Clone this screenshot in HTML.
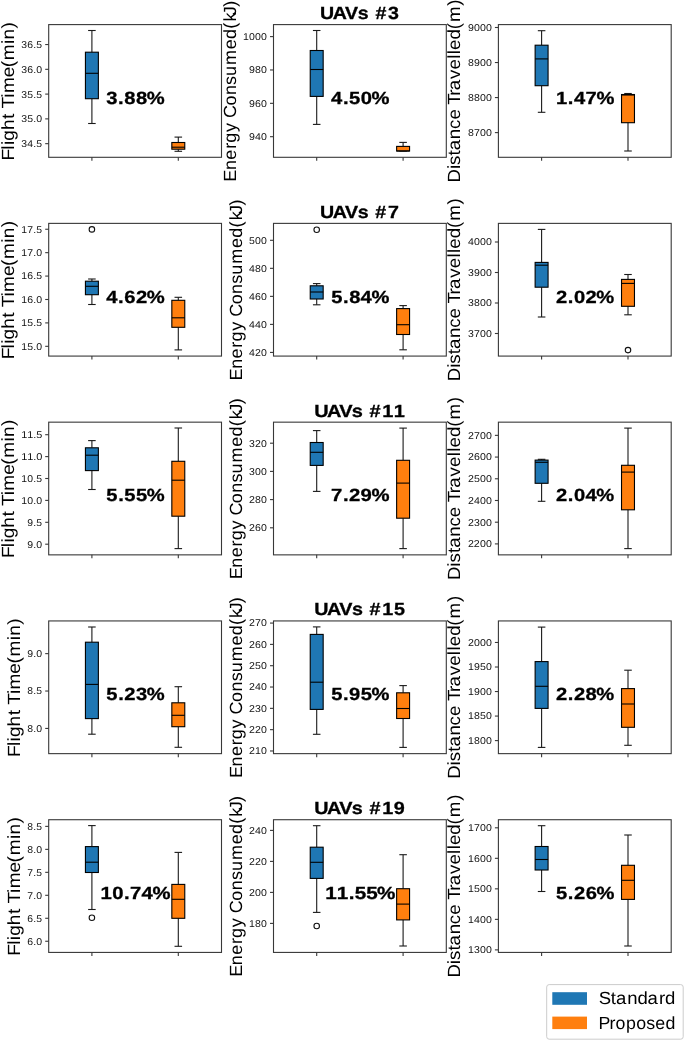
<!DOCTYPE html>
<html><head><meta charset="utf-8"><style>
html,body{margin:0;padding:0;background:#fff;}
svg{display:block;will-change:transform;font-family:"Liberation Sans", sans-serif;text-rendering:geometricPrecision;}
</style></head><body>
<svg width="685" height="1041" viewBox="0 0 685 1041">
<rect width="685" height="1041" fill="#fff"/>
<rect x="48.70" y="24.60" width="172.80" height="132.70" fill="none" stroke="#383838" stroke-width="1.1"/>
<line x1="91.90" y1="157.30" x2="91.90" y2="160.80" stroke="#383838" stroke-width="1.1"/>
<line x1="178.30" y1="157.30" x2="178.30" y2="160.80" stroke="#383838" stroke-width="1.1"/>
<line x1="45.20" y1="44.54" x2="48.70" y2="44.54" stroke="#383838" stroke-width="1.1"/>
<text transform="matrix(1.0465 0 0 1.0000 0 47.94)" x="20.42 26.15 31.80 34.66" font-size="9.95" fill="#111">36.5</text>
<line x1="45.20" y1="69.32" x2="48.70" y2="69.32" stroke="#383838" stroke-width="1.1"/>
<text transform="matrix(1.0567 0 0 1.0000 0 72.72)" x="20.20 25.87 31.48 34.34" font-size="9.95" fill="#111">36.0</text>
<line x1="45.20" y1="94.10" x2="48.70" y2="94.10" stroke="#383838" stroke-width="1.1"/>
<text transform="matrix(1.0465 0 0 1.0000 0 97.50)" x="20.42 26.09 31.80 34.66" font-size="9.95" fill="#111">35.5</text>
<line x1="45.20" y1="118.88" x2="48.70" y2="118.88" stroke="#383838" stroke-width="1.1"/>
<text transform="matrix(1.0567 0 0 1.0000 0 122.28)" x="20.20 25.81 31.48 34.34" font-size="9.95" fill="#111">35.0</text>
<line x1="45.20" y1="143.66" x2="48.70" y2="143.66" stroke="#383838" stroke-width="1.1"/>
<text transform="matrix(1.0465 0 0 1.0000 0 147.06)" x="20.42 26.13 31.80 34.66" font-size="9.95" fill="#111">34.5</text>
<line x1="91.90" y1="30.50" x2="91.90" y2="52.20" stroke="#1a1a1a" stroke-width="1.1"/>
<line x1="91.90" y1="98.70" x2="91.90" y2="123.50" stroke="#1a1a1a" stroke-width="1.1"/>
<line x1="88.67" y1="30.50" x2="95.13" y2="30.50" stroke="#1a1a1a" stroke-width="1.1" stroke-linecap="square"/>
<line x1="88.67" y1="123.50" x2="95.13" y2="123.50" stroke="#1a1a1a" stroke-width="1.1" stroke-linecap="square"/>
<rect x="85.43" y="52.20" width="12.94" height="46.50" fill="#1f77b4" stroke="#000" stroke-width="1.1"/>
<line x1="85.43" y1="73.30" x2="98.37" y2="73.30" stroke="#000" stroke-width="1.1"/>
<line x1="178.30" y1="137.10" x2="178.30" y2="142.50" stroke="#1a1a1a" stroke-width="1.1"/>
<line x1="178.30" y1="149.20" x2="178.30" y2="151.30" stroke="#1a1a1a" stroke-width="1.1"/>
<line x1="175.07" y1="137.10" x2="181.53" y2="137.10" stroke="#1a1a1a" stroke-width="1.1" stroke-linecap="square"/>
<line x1="175.07" y1="151.30" x2="181.53" y2="151.30" stroke="#1a1a1a" stroke-width="1.1" stroke-linecap="square"/>
<rect x="171.83" y="142.50" width="12.94" height="6.70" fill="#ff7f0e" stroke="#000" stroke-width="1.1"/>
<line x1="171.83" y1="147.20" x2="184.77" y2="147.20" stroke="#000" stroke-width="1.1"/>
<text transform="matrix(1.1437 0 0 1.0000 0 103.80)" x="92.99 103.28 108.69 118.83 128.24" font-size="17.64" font-weight="bold" stroke="#000" stroke-width="0.3" fill="#000">3.88%</text>
<g transform="translate(13.77 159.49) rotate(-90)"><text transform="matrix(1.0817 0 0 1.0000 0 0.00)" x="-0.99 9.08 13.36 17.38 27.20 37.51 43.02 47.24 57.07 61.37 75.99 85.28 91.87 106.87 110.97 121.20" font-size="17.64" fill="#000">Flight Time(min)</text></g>
<rect x="273.50" y="24.60" width="172.80" height="132.70" fill="none" stroke="#383838" stroke-width="1.1"/>
<line x1="316.70" y1="157.30" x2="316.70" y2="160.80" stroke="#383838" stroke-width="1.1"/>
<line x1="403.10" y1="157.30" x2="403.10" y2="160.80" stroke="#383838" stroke-width="1.1"/>
<line x1="270.00" y1="36.61" x2="273.50" y2="36.61" stroke="#383838" stroke-width="1.1"/>
<text transform="matrix(1.0616 0 0 1.0000 0 40.01)" x="228.98 234.65 240.28 245.91" font-size="9.95" fill="#111">1000</text>
<line x1="270.00" y1="69.97" x2="273.50" y2="69.97" stroke="#383838" stroke-width="1.1"/>
<text transform="matrix(1.0648 0 0 1.0000 0 73.37)" x="233.92 239.55 245.17" font-size="9.95" fill="#111">980</text>
<line x1="270.00" y1="103.33" x2="273.50" y2="103.33" stroke="#383838" stroke-width="1.1"/>
<text transform="matrix(1.0648 0 0 1.0000 0 106.73)" x="233.92 239.57 245.17" font-size="9.95" fill="#111">960</text>
<line x1="270.00" y1="136.69" x2="273.50" y2="136.69" stroke="#383838" stroke-width="1.1"/>
<text transform="matrix(1.0648 0 0 1.0000 0 140.09)" x="233.92 239.56 245.17" font-size="9.95" fill="#111">940</text>
<line x1="316.70" y1="30.50" x2="316.70" y2="50.50" stroke="#1a1a1a" stroke-width="1.1"/>
<line x1="316.70" y1="96.40" x2="316.70" y2="124.40" stroke="#1a1a1a" stroke-width="1.1"/>
<line x1="313.47" y1="30.50" x2="319.93" y2="30.50" stroke="#1a1a1a" stroke-width="1.1" stroke-linecap="square"/>
<line x1="313.47" y1="124.40" x2="319.93" y2="124.40" stroke="#1a1a1a" stroke-width="1.1" stroke-linecap="square"/>
<rect x="310.23" y="50.50" width="12.94" height="45.90" fill="#1f77b4" stroke="#000" stroke-width="1.1"/>
<line x1="310.23" y1="69.50" x2="323.17" y2="69.50" stroke="#000" stroke-width="1.1"/>
<line x1="403.10" y1="142.40" x2="403.10" y2="146.40" stroke="#1a1a1a" stroke-width="1.1"/>
<line x1="403.10" y1="151.00" x2="403.10" y2="151.00" stroke="#1a1a1a" stroke-width="1.1"/>
<line x1="399.87" y1="142.40" x2="406.33" y2="142.40" stroke="#1a1a1a" stroke-width="1.1" stroke-linecap="square"/>
<line x1="399.87" y1="151.00" x2="406.33" y2="151.00" stroke="#1a1a1a" stroke-width="1.1" stroke-linecap="square"/>
<rect x="396.63" y="146.40" width="12.94" height="4.60" fill="#ff7f0e" stroke="#000" stroke-width="1.1"/>
<line x1="396.63" y1="151.00" x2="409.57" y2="151.00" stroke="#000" stroke-width="1.1"/>
<text transform="matrix(1.1464 0 0 1.0000 0 103.80)" x="288.79 299.13 304.51 314.67 324.02" font-size="17.64" font-weight="bold" stroke="#000" stroke-width="0.3" fill="#000">4.50%</text>
<text transform="matrix(1.1106 0 0 1.0000 0 19.00)" x="288.22 299.69 310.73 322.09 331.53 338.00 349.47" font-size="17.64" font-weight="bold" stroke="#000" stroke-width="0.3" fill="#000">UAVs #3</text>
<g transform="translate(235.58 180.94) rotate(-90)"><text transform="matrix(1.0228 0 0 1.0000 0 0.00)" x="-0.76 10.62 20.75 31.38 37.29 47.82 57.20 61.51 73.70 83.92 93.84 102.66 113.42 128.75 138.87 148.82 155.80 162.10 170.27" font-size="17.64" fill="#000">Energy Consumed(kJ)</text></g>
<rect x="498.40" y="24.60" width="172.80" height="132.70" fill="none" stroke="#383838" stroke-width="1.1"/>
<line x1="541.60" y1="157.30" x2="541.60" y2="160.80" stroke="#383838" stroke-width="1.1"/>
<line x1="628.00" y1="157.30" x2="628.00" y2="160.80" stroke="#383838" stroke-width="1.1"/>
<line x1="494.90" y1="27.49" x2="498.40" y2="27.49" stroke="#383838" stroke-width="1.1"/>
<text transform="matrix(1.0666 0 0 1.0000 0 30.89)" x="438.76 444.38 449.99 455.60" font-size="9.95" fill="#111">9000</text>
<line x1="494.90" y1="62.53" x2="498.40" y2="62.53" stroke="#383838" stroke-width="1.1"/>
<text transform="matrix(1.0644 0 0 1.0000 0 65.93)" x="439.69 445.29 450.93 456.55" font-size="9.95" fill="#111">8900</text>
<line x1="494.90" y1="97.57" x2="498.40" y2="97.57" stroke="#383838" stroke-width="1.1"/>
<text transform="matrix(1.0644 0 0 1.0000 0 100.97)" x="439.69 445.31 450.93 456.55" font-size="9.95" fill="#111">8800</text>
<line x1="494.90" y1="132.61" x2="498.40" y2="132.61" stroke="#383838" stroke-width="1.1"/>
<text transform="matrix(1.0644 0 0 1.0000 0 136.01)" x="439.69 445.29 450.93 456.55" font-size="9.95" fill="#111">8700</text>
<line x1="541.60" y1="30.70" x2="541.60" y2="45.20" stroke="#1a1a1a" stroke-width="1.1"/>
<line x1="541.60" y1="85.70" x2="541.60" y2="112.30" stroke="#1a1a1a" stroke-width="1.1"/>
<line x1="538.37" y1="30.70" x2="544.83" y2="30.70" stroke="#1a1a1a" stroke-width="1.1" stroke-linecap="square"/>
<line x1="538.37" y1="112.30" x2="544.83" y2="112.30" stroke="#1a1a1a" stroke-width="1.1" stroke-linecap="square"/>
<rect x="535.13" y="45.20" width="12.94" height="40.50" fill="#1f77b4" stroke="#000" stroke-width="1.1"/>
<line x1="535.13" y1="58.90" x2="548.07" y2="58.90" stroke="#000" stroke-width="1.1"/>
<line x1="628.00" y1="93.50" x2="628.00" y2="94.50" stroke="#1a1a1a" stroke-width="1.1"/>
<line x1="628.00" y1="122.70" x2="628.00" y2="151.00" stroke="#1a1a1a" stroke-width="1.1"/>
<line x1="624.77" y1="93.50" x2="631.23" y2="93.50" stroke="#1a1a1a" stroke-width="1.1" stroke-linecap="square"/>
<line x1="624.77" y1="151.00" x2="631.23" y2="151.00" stroke="#1a1a1a" stroke-width="1.1" stroke-linecap="square"/>
<rect x="621.53" y="94.50" width="12.94" height="28.20" fill="#ff7f0e" stroke="#000" stroke-width="1.1"/>
<line x1="621.53" y1="95.00" x2="634.47" y2="95.00" stroke="#000" stroke-width="1.1"/>
<text transform="matrix(1.1432 0 0 1.0000 0 103.80)" x="486.41 496.71 502.04 512.16 521.69" font-size="17.64" font-weight="bold" stroke="#000" stroke-width="0.3" fill="#000">1.47%</text>
<g transform="translate(460.48 182.18) rotate(-90)"><text transform="matrix(1.0616 0 0 1.0000 0 0.00)" x="-0.30 12.35 16.21 25.22 30.05 40.55 50.06 58.94 68.71 73.06 81.51 86.66 97.24 106.25 116.23 120.59 124.63 134.39 144.03 150.83 166.30" font-size="17.64" fill="#000">Distance Travelled(m)</text></g>
<rect x="48.70" y="223.38" width="172.80" height="132.70" fill="none" stroke="#383838" stroke-width="1.1"/>
<line x1="91.90" y1="356.08" x2="91.90" y2="359.58" stroke="#383838" stroke-width="1.1"/>
<line x1="178.30" y1="356.08" x2="178.30" y2="359.58" stroke="#383838" stroke-width="1.1"/>
<line x1="45.20" y1="229.25" x2="48.70" y2="229.25" stroke="#383838" stroke-width="1.1"/>
<text transform="matrix(1.0485 0 0 1.0000 0 232.65)" x="20.34 26.05 31.74 34.59" font-size="9.95" fill="#111">17.5</text>
<line x1="45.20" y1="252.66" x2="48.70" y2="252.66" stroke="#383838" stroke-width="1.1"/>
<text transform="matrix(1.0588 0 0 1.0000 0 256.06)" x="20.11 25.77 31.42 34.27" font-size="9.95" fill="#111">17.0</text>
<line x1="45.20" y1="276.08" x2="48.70" y2="276.08" stroke="#383838" stroke-width="1.1"/>
<text transform="matrix(1.0485 0 0 1.0000 0 279.48)" x="20.34 26.10 31.74 34.59" font-size="9.95" fill="#111">16.5</text>
<line x1="45.20" y1="299.49" x2="48.70" y2="299.49" stroke="#383838" stroke-width="1.1"/>
<text transform="matrix(1.0588 0 0 1.0000 0 302.89)" x="20.11 25.82 31.42 34.27" font-size="9.95" fill="#111">16.0</text>
<line x1="45.20" y1="322.90" x2="48.70" y2="322.90" stroke="#383838" stroke-width="1.1"/>
<text transform="matrix(1.0485 0 0 1.0000 0 326.30)" x="20.34 26.03 31.74 34.59" font-size="9.95" fill="#111">15.5</text>
<line x1="45.20" y1="346.32" x2="48.70" y2="346.32" stroke="#383838" stroke-width="1.1"/>
<text transform="matrix(1.0588 0 0 1.0000 0 349.72)" x="20.11 25.75 31.42 34.27" font-size="9.95" fill="#111">15.0</text>
<line x1="91.90" y1="279.00" x2="91.90" y2="281.20" stroke="#1a1a1a" stroke-width="1.1"/>
<line x1="91.90" y1="294.70" x2="91.90" y2="304.50" stroke="#1a1a1a" stroke-width="1.1"/>
<line x1="88.67" y1="279.00" x2="95.13" y2="279.00" stroke="#1a1a1a" stroke-width="1.1" stroke-linecap="square"/>
<line x1="88.67" y1="304.50" x2="95.13" y2="304.50" stroke="#1a1a1a" stroke-width="1.1" stroke-linecap="square"/>
<rect x="85.43" y="281.20" width="12.94" height="13.50" fill="#1f77b4" stroke="#000" stroke-width="1.1"/>
<line x1="85.43" y1="286.30" x2="98.37" y2="286.30" stroke="#000" stroke-width="1.1"/>
<circle cx="91.90" cy="229.40" r="2.75" fill="none" stroke="#111" stroke-width="1.1"/>
<line x1="178.30" y1="297.30" x2="178.30" y2="300.30" stroke="#1a1a1a" stroke-width="1.1"/>
<line x1="178.30" y1="327.30" x2="178.30" y2="349.90" stroke="#1a1a1a" stroke-width="1.1"/>
<line x1="175.07" y1="297.30" x2="181.53" y2="297.30" stroke="#1a1a1a" stroke-width="1.1" stroke-linecap="square"/>
<line x1="175.07" y1="349.90" x2="181.53" y2="349.90" stroke="#1a1a1a" stroke-width="1.1" stroke-linecap="square"/>
<rect x="171.83" y="300.30" width="12.94" height="27.00" fill="#ff7f0e" stroke="#000" stroke-width="1.1"/>
<line x1="171.83" y1="317.80" x2="184.77" y2="317.80" stroke="#000" stroke-width="1.1"/>
<text transform="matrix(1.1464 0 0 1.0000 0 302.58)" x="92.70 103.04 108.46 118.55 127.92" font-size="17.64" font-weight="bold" stroke="#000" stroke-width="0.3" fill="#000">4.62%</text>
<g transform="translate(13.77 358.27) rotate(-90)"><text transform="matrix(1.0817 0 0 1.0000 0 0.00)" x="-0.99 9.08 13.36 17.38 27.20 37.51 43.02 47.24 57.07 61.37 75.99 85.28 91.87 106.87 110.97 121.20" font-size="17.64" fill="#000">Flight Time(min)</text></g>
<rect x="273.50" y="223.38" width="172.80" height="132.70" fill="none" stroke="#383838" stroke-width="1.1"/>
<line x1="316.70" y1="356.08" x2="316.70" y2="359.58" stroke="#383838" stroke-width="1.1"/>
<line x1="403.10" y1="356.08" x2="403.10" y2="359.58" stroke="#383838" stroke-width="1.1"/>
<line x1="270.00" y1="240.30" x2="273.50" y2="240.30" stroke="#383838" stroke-width="1.1"/>
<text transform="matrix(1.0555 0 0 1.0000 0 243.70)" x="235.99 241.70 247.36" font-size="9.95" fill="#111">500</text>
<line x1="270.00" y1="268.33" x2="273.50" y2="268.33" stroke="#383838" stroke-width="1.1"/>
<text transform="matrix(1.0604 0 0 1.0000 0 271.73)" x="234.93 240.57 246.21" font-size="9.95" fill="#111">480</text>
<line x1="270.00" y1="296.36" x2="273.50" y2="296.36" stroke="#383838" stroke-width="1.1"/>
<text transform="matrix(1.0604 0 0 1.0000 0 299.76)" x="234.93 240.59 246.21" font-size="9.95" fill="#111">460</text>
<line x1="270.00" y1="324.39" x2="273.50" y2="324.39" stroke="#383838" stroke-width="1.1"/>
<text transform="matrix(1.0604 0 0 1.0000 0 327.79)" x="234.93 240.58 246.21" font-size="9.95" fill="#111">440</text>
<line x1="270.00" y1="352.42" x2="273.50" y2="352.42" stroke="#383838" stroke-width="1.1"/>
<text transform="matrix(1.0604 0 0 1.0000 0 355.82)" x="234.93 240.46 246.21" font-size="9.95" fill="#111">420</text>
<line x1="316.70" y1="283.60" x2="316.70" y2="285.80" stroke="#1a1a1a" stroke-width="1.1"/>
<line x1="316.70" y1="299.00" x2="316.70" y2="304.80" stroke="#1a1a1a" stroke-width="1.1"/>
<line x1="313.47" y1="283.60" x2="319.93" y2="283.60" stroke="#1a1a1a" stroke-width="1.1" stroke-linecap="square"/>
<line x1="313.47" y1="304.80" x2="319.93" y2="304.80" stroke="#1a1a1a" stroke-width="1.1" stroke-linecap="square"/>
<rect x="310.23" y="285.80" width="12.94" height="13.20" fill="#1f77b4" stroke="#000" stroke-width="1.1"/>
<line x1="310.23" y1="292.00" x2="323.17" y2="292.00" stroke="#000" stroke-width="1.1"/>
<circle cx="316.70" cy="229.80" r="2.75" fill="none" stroke="#111" stroke-width="1.1"/>
<line x1="403.10" y1="305.60" x2="403.10" y2="308.60" stroke="#1a1a1a" stroke-width="1.1"/>
<line x1="403.10" y1="334.50" x2="403.10" y2="349.80" stroke="#1a1a1a" stroke-width="1.1"/>
<line x1="399.87" y1="305.60" x2="406.33" y2="305.60" stroke="#1a1a1a" stroke-width="1.1" stroke-linecap="square"/>
<line x1="399.87" y1="349.80" x2="406.33" y2="349.80" stroke="#1a1a1a" stroke-width="1.1" stroke-linecap="square"/>
<rect x="396.63" y="308.60" width="12.94" height="25.90" fill="#ff7f0e" stroke="#000" stroke-width="1.1"/>
<line x1="396.63" y1="324.70" x2="409.57" y2="324.70" stroke="#000" stroke-width="1.1"/>
<text transform="matrix(1.1424 0 0 1.0000 0 302.58)" x="289.90 300.19 305.61 315.67 325.18" font-size="17.64" font-weight="bold" stroke="#000" stroke-width="0.3" fill="#000">5.84%</text>
<text transform="matrix(1.1135 0 0 1.0000 0 217.78)" x="287.47 298.90 309.91 321.25 330.67 337.12 348.47" font-size="17.64" font-weight="bold" stroke="#000" stroke-width="0.3" fill="#000">UAVs #7</text>
<g transform="translate(241.56 379.72) rotate(-90)"><text transform="matrix(1.0228 0 0 1.0000 0 0.00)" x="-0.76 10.62 20.75 31.38 37.29 47.82 57.20 61.51 73.70 83.92 93.84 102.66 113.42 128.75 138.87 148.82 155.80 162.10 170.27" font-size="17.64" fill="#000">Energy Consumed(kJ)</text></g>
<rect x="498.40" y="223.38" width="172.80" height="132.70" fill="none" stroke="#383838" stroke-width="1.1"/>
<line x1="541.60" y1="356.08" x2="541.60" y2="359.58" stroke="#383838" stroke-width="1.1"/>
<line x1="628.00" y1="356.08" x2="628.00" y2="359.58" stroke="#383838" stroke-width="1.1"/>
<line x1="494.90" y1="242.00" x2="498.40" y2="242.00" stroke="#383838" stroke-width="1.1"/>
<text transform="matrix(1.0633 0 0 1.0000 0 245.40)" x="440.16 445.78 451.40 457.03" font-size="9.95" fill="#111">4000</text>
<line x1="494.90" y1="272.50" x2="498.40" y2="272.50" stroke="#383838" stroke-width="1.1"/>
<text transform="matrix(1.0597 0 0 1.0000 0 275.90)" x="441.65 447.27 452.94 458.58" font-size="9.95" fill="#111">3900</text>
<line x1="494.90" y1="303.00" x2="498.40" y2="303.00" stroke="#383838" stroke-width="1.1"/>
<text transform="matrix(1.0597 0 0 1.0000 0 306.40)" x="441.65 447.29 452.94 458.58" font-size="9.95" fill="#111">3800</text>
<line x1="494.90" y1="333.50" x2="498.40" y2="333.50" stroke="#383838" stroke-width="1.1"/>
<text transform="matrix(1.0597 0 0 1.0000 0 336.90)" x="441.65 447.27 452.94 458.58" font-size="9.95" fill="#111">3700</text>
<line x1="541.60" y1="229.40" x2="541.60" y2="262.40" stroke="#1a1a1a" stroke-width="1.1"/>
<line x1="541.60" y1="287.20" x2="541.60" y2="317.00" stroke="#1a1a1a" stroke-width="1.1"/>
<line x1="538.37" y1="229.40" x2="544.83" y2="229.40" stroke="#1a1a1a" stroke-width="1.1" stroke-linecap="square"/>
<line x1="538.37" y1="317.00" x2="544.83" y2="317.00" stroke="#1a1a1a" stroke-width="1.1" stroke-linecap="square"/>
<rect x="535.13" y="262.40" width="12.94" height="24.80" fill="#1f77b4" stroke="#000" stroke-width="1.1"/>
<line x1="535.13" y1="265.20" x2="548.07" y2="265.20" stroke="#000" stroke-width="1.1"/>
<line x1="628.00" y1="274.50" x2="628.00" y2="279.40" stroke="#1a1a1a" stroke-width="1.1"/>
<line x1="628.00" y1="306.30" x2="628.00" y2="314.80" stroke="#1a1a1a" stroke-width="1.1"/>
<line x1="624.77" y1="274.50" x2="631.23" y2="274.50" stroke="#1a1a1a" stroke-width="1.1" stroke-linecap="square"/>
<line x1="624.77" y1="314.80" x2="631.23" y2="314.80" stroke="#1a1a1a" stroke-width="1.1" stroke-linecap="square"/>
<rect x="621.53" y="279.40" width="12.94" height="26.90" fill="#ff7f0e" stroke="#000" stroke-width="1.1"/>
<line x1="621.53" y1="283.40" x2="634.47" y2="283.40" stroke="#000" stroke-width="1.1"/>
<circle cx="628.00" cy="350.10" r="2.75" fill="none" stroke="#111" stroke-width="1.1"/>
<text transform="matrix(1.1427 0 0 1.0000 0 302.58)" x="486.64 496.90 502.36 512.48 521.89" font-size="17.64" font-weight="bold" stroke="#000" stroke-width="0.3" fill="#000">2.02%</text>
<g transform="translate(460.48 380.96) rotate(-90)"><text transform="matrix(1.0616 0 0 1.0000 0 0.00)" x="-0.30 12.35 16.21 25.22 30.05 40.55 50.06 58.94 68.71 73.06 81.51 86.66 97.24 106.25 116.23 120.59 124.63 134.39 144.03 150.83 166.30" font-size="17.64" fill="#000">Distance Travelled(m)</text></g>
<rect x="48.70" y="422.16" width="172.80" height="132.70" fill="none" stroke="#383838" stroke-width="1.1"/>
<line x1="91.90" y1="554.86" x2="91.90" y2="558.36" stroke="#383838" stroke-width="1.1"/>
<line x1="178.30" y1="554.86" x2="178.30" y2="558.36" stroke="#383838" stroke-width="1.1"/>
<line x1="45.20" y1="434.70" x2="48.70" y2="434.70" stroke="#383838" stroke-width="1.1"/>
<text transform="matrix(1.0933 0 0 1.0000 0 438.10)" x="19.39 24.86 30.38 33.06" font-size="9.95" fill="#111">11.5</text>
<line x1="45.20" y1="456.60" x2="48.70" y2="456.60" stroke="#383838" stroke-width="1.1"/>
<text transform="matrix(1.1041 0 0 1.0000 0 460.00)" x="19.17 24.59 30.07 32.75" font-size="9.95" fill="#111">11.0</text>
<line x1="45.20" y1="478.50" x2="48.70" y2="478.50" stroke="#383838" stroke-width="1.1"/>
<text transform="matrix(1.0485 0 0 1.0000 0 481.90)" x="20.34 26.08 31.74 34.59" font-size="9.95" fill="#111">10.5</text>
<line x1="45.20" y1="500.40" x2="48.70" y2="500.40" stroke="#383838" stroke-width="1.1"/>
<text transform="matrix(1.0588 0 0 1.0000 0 503.80)" x="20.11 25.80 31.42 34.27" font-size="9.95" fill="#111">10.0</text>
<line x1="45.20" y1="522.30" x2="48.70" y2="522.30" stroke="#383838" stroke-width="1.1"/>
<text transform="matrix(1.0430 0 0 1.0000 0 525.70)" x="26.21 31.91 34.78" font-size="9.95" fill="#111">9.5</text>
<line x1="45.20" y1="544.20" x2="48.70" y2="544.20" stroke="#383838" stroke-width="1.1"/>
<text transform="matrix(1.0574 0 0 1.0000 0 547.60)" x="25.81 31.46 34.31" font-size="9.95" fill="#111">9.0</text>
<line x1="91.90" y1="440.60" x2="91.90" y2="447.80" stroke="#1a1a1a" stroke-width="1.1"/>
<line x1="91.90" y1="470.60" x2="91.90" y2="489.50" stroke="#1a1a1a" stroke-width="1.1"/>
<line x1="88.67" y1="440.60" x2="95.13" y2="440.60" stroke="#1a1a1a" stroke-width="1.1" stroke-linecap="square"/>
<line x1="88.67" y1="489.50" x2="95.13" y2="489.50" stroke="#1a1a1a" stroke-width="1.1" stroke-linecap="square"/>
<rect x="85.43" y="447.80" width="12.94" height="22.80" fill="#1f77b4" stroke="#000" stroke-width="1.1"/>
<line x1="85.43" y1="455.20" x2="98.37" y2="455.20" stroke="#000" stroke-width="1.1"/>
<line x1="178.30" y1="428.00" x2="178.30" y2="461.30" stroke="#1a1a1a" stroke-width="1.1"/>
<line x1="178.30" y1="516.20" x2="178.30" y2="548.60" stroke="#1a1a1a" stroke-width="1.1"/>
<line x1="175.07" y1="428.00" x2="181.53" y2="428.00" stroke="#1a1a1a" stroke-width="1.1" stroke-linecap="square"/>
<line x1="175.07" y1="548.60" x2="181.53" y2="548.60" stroke="#1a1a1a" stroke-width="1.1" stroke-linecap="square"/>
<rect x="171.83" y="461.30" width="12.94" height="54.90" fill="#ff7f0e" stroke="#000" stroke-width="1.1"/>
<line x1="171.83" y1="480.20" x2="184.77" y2="480.20" stroke="#000" stroke-width="1.1"/>
<text transform="matrix(1.1424 0 0 1.0000 0 501.36)" x="93.12 103.41 108.82 118.97 128.40" font-size="17.64" font-weight="bold" stroke="#000" stroke-width="0.3" fill="#000">5.55%</text>
<g transform="translate(13.77 557.05) rotate(-90)"><text transform="matrix(1.0817 0 0 1.0000 0 0.00)" x="-0.99 9.08 13.36 17.38 27.20 37.51 43.02 47.24 57.07 61.37 75.99 85.28 91.87 106.87 110.97 121.20" font-size="17.64" fill="#000">Flight Time(min)</text></g>
<rect x="273.50" y="422.16" width="172.80" height="132.70" fill="none" stroke="#383838" stroke-width="1.1"/>
<line x1="316.70" y1="554.86" x2="316.70" y2="558.36" stroke="#383838" stroke-width="1.1"/>
<line x1="403.10" y1="554.86" x2="403.10" y2="558.36" stroke="#383838" stroke-width="1.1"/>
<line x1="270.00" y1="443.20" x2="273.50" y2="443.20" stroke="#383838" stroke-width="1.1"/>
<text transform="matrix(1.0555 0 0 1.0000 0 446.60)" x="236.03 241.58 247.36" font-size="9.95" fill="#111">320</text>
<line x1="270.00" y1="471.40" x2="273.50" y2="471.40" stroke="#383838" stroke-width="1.1"/>
<text transform="matrix(1.0555 0 0 1.0000 0 474.80)" x="236.03 241.70 247.36" font-size="9.95" fill="#111">300</text>
<line x1="270.00" y1="499.60" x2="273.50" y2="499.60" stroke="#383838" stroke-width="1.1"/>
<text transform="matrix(1.0622 0 0 1.0000 0 503.00)" x="234.41 240.15 245.78" font-size="9.95" fill="#111">280</text>
<line x1="270.00" y1="527.80" x2="273.50" y2="527.80" stroke="#383838" stroke-width="1.1"/>
<text transform="matrix(1.0622 0 0 1.0000 0 531.20)" x="234.41 240.17 245.78" font-size="9.95" fill="#111">260</text>
<line x1="316.70" y1="430.60" x2="316.70" y2="442.50" stroke="#1a1a1a" stroke-width="1.1"/>
<line x1="316.70" y1="465.40" x2="316.70" y2="491.40" stroke="#1a1a1a" stroke-width="1.1"/>
<line x1="313.47" y1="430.60" x2="319.93" y2="430.60" stroke="#1a1a1a" stroke-width="1.1" stroke-linecap="square"/>
<line x1="313.47" y1="491.40" x2="319.93" y2="491.40" stroke="#1a1a1a" stroke-width="1.1" stroke-linecap="square"/>
<rect x="310.23" y="442.50" width="12.94" height="22.90" fill="#1f77b4" stroke="#000" stroke-width="1.1"/>
<line x1="310.23" y1="452.30" x2="323.17" y2="452.30" stroke="#000" stroke-width="1.1"/>
<line x1="403.10" y1="428.10" x2="403.10" y2="460.30" stroke="#1a1a1a" stroke-width="1.1"/>
<line x1="403.10" y1="518.20" x2="403.10" y2="548.60" stroke="#1a1a1a" stroke-width="1.1"/>
<line x1="399.87" y1="428.10" x2="406.33" y2="428.10" stroke="#1a1a1a" stroke-width="1.1" stroke-linecap="square"/>
<line x1="399.87" y1="548.60" x2="406.33" y2="548.60" stroke="#1a1a1a" stroke-width="1.1" stroke-linecap="square"/>
<rect x="396.63" y="460.30" width="12.94" height="57.90" fill="#ff7f0e" stroke="#000" stroke-width="1.1"/>
<line x1="396.63" y1="483.10" x2="409.57" y2="483.10" stroke="#000" stroke-width="1.1"/>
<text transform="matrix(1.1520 0 0 1.0000 0 501.36)" x="287.34 297.66 303.02 312.98 322.40" font-size="17.64" font-weight="bold" stroke="#000" stroke-width="0.3" fill="#000">7.29%</text>
<text transform="matrix(1.1331 0 0 1.0000 0 416.56)" x="277.25 288.49 299.31 310.47 319.77 326.07 337.31 347.54" font-size="17.64" font-weight="bold" stroke="#000" stroke-width="0.3" fill="#000">UAVs #11</text>
<g transform="translate(241.56 578.50) rotate(-90)"><text transform="matrix(1.0228 0 0 1.0000 0 0.00)" x="-0.76 10.62 20.75 31.38 37.29 47.82 57.20 61.51 73.70 83.92 93.84 102.66 113.42 128.75 138.87 148.82 155.80 162.10 170.27" font-size="17.64" fill="#000">Energy Consumed(kJ)</text></g>
<rect x="498.40" y="422.16" width="172.80" height="132.70" fill="none" stroke="#383838" stroke-width="1.1"/>
<line x1="541.60" y1="554.86" x2="541.60" y2="558.36" stroke="#383838" stroke-width="1.1"/>
<line x1="628.00" y1="554.86" x2="628.00" y2="558.36" stroke="#383838" stroke-width="1.1"/>
<line x1="494.90" y1="435.36" x2="498.40" y2="435.36" stroke="#383838" stroke-width="1.1"/>
<text transform="matrix(1.0647 0 0 1.0000 0 438.76)" x="439.47 445.17 450.81 456.43" font-size="9.95" fill="#111">2700</text>
<line x1="494.90" y1="457.07" x2="498.40" y2="457.07" stroke="#383838" stroke-width="1.1"/>
<text transform="matrix(1.0647 0 0 1.0000 0 460.47)" x="439.47 445.21 450.81 456.43" font-size="9.95" fill="#111">2600</text>
<line x1="494.90" y1="478.78" x2="498.40" y2="478.78" stroke="#383838" stroke-width="1.1"/>
<text transform="matrix(1.0647 0 0 1.0000 0 482.18)" x="439.47 445.15 450.81 456.43" font-size="9.95" fill="#111">2500</text>
<line x1="494.90" y1="500.49" x2="498.40" y2="500.49" stroke="#383838" stroke-width="1.1"/>
<text transform="matrix(1.0647 0 0 1.0000 0 503.89)" x="439.47 445.20 450.81 456.43" font-size="9.95" fill="#111">2400</text>
<line x1="494.90" y1="522.20" x2="498.40" y2="522.20" stroke="#383838" stroke-width="1.1"/>
<text transform="matrix(1.0647 0 0 1.0000 0 525.60)" x="439.47 445.20 450.81 456.43" font-size="9.95" fill="#111">2300</text>
<line x1="494.90" y1="543.90" x2="498.40" y2="543.90" stroke="#383838" stroke-width="1.1"/>
<text transform="matrix(1.0647 0 0 1.0000 0 547.30)" x="439.47 445.08 450.81 456.43" font-size="9.95" fill="#111">2200</text>
<line x1="541.60" y1="459.30" x2="541.60" y2="460.10" stroke="#1a1a1a" stroke-width="1.1"/>
<line x1="541.60" y1="483.30" x2="541.60" y2="501.30" stroke="#1a1a1a" stroke-width="1.1"/>
<line x1="538.37" y1="459.30" x2="544.83" y2="459.30" stroke="#1a1a1a" stroke-width="1.1" stroke-linecap="square"/>
<line x1="538.37" y1="501.30" x2="544.83" y2="501.30" stroke="#1a1a1a" stroke-width="1.1" stroke-linecap="square"/>
<rect x="535.13" y="460.10" width="12.94" height="23.20" fill="#1f77b4" stroke="#000" stroke-width="1.1"/>
<line x1="535.13" y1="462.30" x2="548.07" y2="462.30" stroke="#000" stroke-width="1.1"/>
<line x1="628.00" y1="428.10" x2="628.00" y2="465.30" stroke="#1a1a1a" stroke-width="1.1"/>
<line x1="628.00" y1="509.80" x2="628.00" y2="548.60" stroke="#1a1a1a" stroke-width="1.1"/>
<line x1="624.77" y1="428.10" x2="631.23" y2="428.10" stroke="#1a1a1a" stroke-width="1.1" stroke-linecap="square"/>
<line x1="624.77" y1="548.60" x2="631.23" y2="548.60" stroke="#1a1a1a" stroke-width="1.1" stroke-linecap="square"/>
<rect x="621.53" y="465.30" width="12.94" height="44.50" fill="#ff7f0e" stroke="#000" stroke-width="1.1"/>
<line x1="621.53" y1="472.10" x2="634.47" y2="472.10" stroke="#000" stroke-width="1.1"/>
<text transform="matrix(1.1427 0 0 1.0000 0 501.36)" x="486.64 496.90 502.36 512.38 521.89" font-size="17.64" font-weight="bold" stroke="#000" stroke-width="0.3" fill="#000">2.04%</text>
<g transform="translate(460.48 579.74) rotate(-90)"><text transform="matrix(1.0616 0 0 1.0000 0 0.00)" x="-0.30 12.35 16.21 25.22 30.05 40.55 50.06 58.94 68.71 73.06 81.51 86.66 97.24 106.25 116.23 120.59 124.63 134.39 144.03 150.83 166.30" font-size="17.64" fill="#000">Distance Travelled(m)</text></g>
<rect x="48.70" y="620.94" width="172.80" height="132.70" fill="none" stroke="#383838" stroke-width="1.1"/>
<line x1="91.90" y1="753.64" x2="91.90" y2="757.14" stroke="#383838" stroke-width="1.1"/>
<line x1="178.30" y1="753.64" x2="178.30" y2="757.14" stroke="#383838" stroke-width="1.1"/>
<line x1="45.20" y1="653.63" x2="48.70" y2="653.63" stroke="#383838" stroke-width="1.1"/>
<text transform="matrix(1.0574 0 0 1.0000 0 657.03)" x="25.81 31.46 34.31" font-size="9.95" fill="#111">9.0</text>
<line x1="45.20" y1="691.03" x2="48.70" y2="691.03" stroke="#383838" stroke-width="1.1"/>
<text transform="matrix(1.0393 0 0 1.0000 0 694.43)" x="26.33 32.03 34.92" font-size="9.95" fill="#111">8.5</text>
<line x1="45.20" y1="728.43" x2="48.70" y2="728.43" stroke="#383838" stroke-width="1.1"/>
<text transform="matrix(1.0538 0 0 1.0000 0 731.83)" x="25.93 31.57 34.44" font-size="9.95" fill="#111">8.0</text>
<line x1="91.90" y1="627.00" x2="91.90" y2="642.20" stroke="#1a1a1a" stroke-width="1.1"/>
<line x1="91.90" y1="718.60" x2="91.90" y2="734.20" stroke="#1a1a1a" stroke-width="1.1"/>
<line x1="88.67" y1="627.00" x2="95.13" y2="627.00" stroke="#1a1a1a" stroke-width="1.1" stroke-linecap="square"/>
<line x1="88.67" y1="734.20" x2="95.13" y2="734.20" stroke="#1a1a1a" stroke-width="1.1" stroke-linecap="square"/>
<rect x="85.43" y="642.20" width="12.94" height="76.40" fill="#1f77b4" stroke="#000" stroke-width="1.1"/>
<line x1="85.43" y1="684.40" x2="98.37" y2="684.40" stroke="#000" stroke-width="1.1"/>
<line x1="178.30" y1="686.70" x2="178.30" y2="702.80" stroke="#1a1a1a" stroke-width="1.1"/>
<line x1="178.30" y1="726.70" x2="178.30" y2="747.30" stroke="#1a1a1a" stroke-width="1.1"/>
<line x1="175.07" y1="686.70" x2="181.53" y2="686.70" stroke="#1a1a1a" stroke-width="1.1" stroke-linecap="square"/>
<line x1="175.07" y1="747.30" x2="181.53" y2="747.30" stroke="#1a1a1a" stroke-width="1.1" stroke-linecap="square"/>
<rect x="171.83" y="702.80" width="12.94" height="23.90" fill="#ff7f0e" stroke="#000" stroke-width="1.1"/>
<line x1="171.83" y1="715.30" x2="184.77" y2="715.30" stroke="#000" stroke-width="1.1"/>
<text transform="matrix(1.1424 0 0 1.0000 0 700.14)" x="93.12 103.41 108.83 118.96 128.40" font-size="17.64" font-weight="bold" stroke="#000" stroke-width="0.3" fill="#000">5.23%</text>
<g transform="translate(19.75 755.83) rotate(-90)"><text transform="matrix(1.0817 0 0 1.0000 0 0.00)" x="-0.99 9.08 13.36 17.38 27.20 37.51 43.02 47.24 57.07 61.37 75.99 85.28 91.87 106.87 110.97 121.20" font-size="17.64" fill="#000">Flight Time(min)</text></g>
<rect x="273.50" y="620.94" width="172.80" height="132.70" fill="none" stroke="#383838" stroke-width="1.1"/>
<line x1="316.70" y1="753.64" x2="316.70" y2="757.14" stroke="#383838" stroke-width="1.1"/>
<line x1="403.10" y1="753.64" x2="403.10" y2="757.14" stroke="#383838" stroke-width="1.1"/>
<line x1="270.00" y1="623.07" x2="273.50" y2="623.07" stroke="#383838" stroke-width="1.1"/>
<text transform="matrix(1.0622 0 0 1.0000 0 626.47)" x="234.41 240.13 245.78" font-size="9.95" fill="#111">270</text>
<line x1="270.00" y1="644.39" x2="273.50" y2="644.39" stroke="#383838" stroke-width="1.1"/>
<text transform="matrix(1.0622 0 0 1.0000 0 647.79)" x="234.41 240.17 245.78" font-size="9.95" fill="#111">260</text>
<line x1="270.00" y1="665.71" x2="273.50" y2="665.71" stroke="#383838" stroke-width="1.1"/>
<text transform="matrix(1.0622 0 0 1.0000 0 669.11)" x="234.41 240.11 245.78" font-size="9.95" fill="#111">250</text>
<line x1="270.00" y1="687.03" x2="273.50" y2="687.03" stroke="#383838" stroke-width="1.1"/>
<text transform="matrix(1.0622 0 0 1.0000 0 690.43)" x="234.41 240.16 245.78" font-size="9.95" fill="#111">240</text>
<line x1="270.00" y1="708.35" x2="273.50" y2="708.35" stroke="#383838" stroke-width="1.1"/>
<text transform="matrix(1.0622 0 0 1.0000 0 711.75)" x="234.41 240.16 245.78" font-size="9.95" fill="#111">230</text>
<line x1="270.00" y1="729.66" x2="273.50" y2="729.66" stroke="#383838" stroke-width="1.1"/>
<text transform="matrix(1.0622 0 0 1.0000 0 733.06)" x="234.41 240.04 245.78" font-size="9.95" fill="#111">220</text>
<line x1="270.00" y1="750.98" x2="273.50" y2="750.98" stroke="#383838" stroke-width="1.1"/>
<text transform="matrix(1.0622 0 0 1.0000 0 754.38)" x="234.41 240.12 245.78" font-size="9.95" fill="#111">210</text>
<line x1="316.70" y1="626.90" x2="316.70" y2="634.40" stroke="#1a1a1a" stroke-width="1.1"/>
<line x1="316.70" y1="709.40" x2="316.70" y2="734.30" stroke="#1a1a1a" stroke-width="1.1"/>
<line x1="313.47" y1="626.90" x2="319.93" y2="626.90" stroke="#1a1a1a" stroke-width="1.1" stroke-linecap="square"/>
<line x1="313.47" y1="734.30" x2="319.93" y2="734.30" stroke="#1a1a1a" stroke-width="1.1" stroke-linecap="square"/>
<rect x="310.23" y="634.40" width="12.94" height="75.00" fill="#1f77b4" stroke="#000" stroke-width="1.1"/>
<line x1="310.23" y1="682.20" x2="323.17" y2="682.20" stroke="#000" stroke-width="1.1"/>
<line x1="403.10" y1="685.60" x2="403.10" y2="692.80" stroke="#1a1a1a" stroke-width="1.1"/>
<line x1="403.10" y1="718.50" x2="403.10" y2="747.40" stroke="#1a1a1a" stroke-width="1.1"/>
<line x1="399.87" y1="685.60" x2="406.33" y2="685.60" stroke="#1a1a1a" stroke-width="1.1" stroke-linecap="square"/>
<line x1="399.87" y1="747.40" x2="406.33" y2="747.40" stroke="#1a1a1a" stroke-width="1.1" stroke-linecap="square"/>
<rect x="396.63" y="692.80" width="12.94" height="25.70" fill="#ff7f0e" stroke="#000" stroke-width="1.1"/>
<line x1="396.63" y1="708.50" x2="409.57" y2="708.50" stroke="#000" stroke-width="1.1"/>
<text transform="matrix(1.1424 0 0 1.0000 0 700.14)" x="289.90 300.19 305.50 315.75 325.18" font-size="17.64" font-weight="bold" stroke="#000" stroke-width="0.3" fill="#000">5.95%</text>
<text transform="matrix(1.1192 0 0 1.0000 0 615.34)" x="280.80 292.17 303.13 314.41 323.80 330.21 341.59 351.96" font-size="17.64" font-weight="bold" stroke="#000" stroke-width="0.3" fill="#000">UAVs #15</text>
<g transform="translate(241.56 777.28) rotate(-90)"><text transform="matrix(1.0228 0 0 1.0000 0 0.00)" x="-0.76 10.62 20.75 31.38 37.29 47.82 57.20 61.51 73.70 83.92 93.84 102.66 113.42 128.75 138.87 148.82 155.80 162.10 170.27" font-size="17.64" fill="#000">Energy Consumed(kJ)</text></g>
<rect x="498.40" y="620.94" width="172.80" height="132.70" fill="none" stroke="#383838" stroke-width="1.1"/>
<line x1="541.60" y1="753.64" x2="541.60" y2="757.14" stroke="#383838" stroke-width="1.1"/>
<line x1="628.00" y1="753.64" x2="628.00" y2="757.14" stroke="#383838" stroke-width="1.1"/>
<line x1="494.90" y1="642.48" x2="498.40" y2="642.48" stroke="#383838" stroke-width="1.1"/>
<text transform="matrix(1.0647 0 0 1.0000 0 645.88)" x="439.47 445.20 450.81 456.43" font-size="9.95" fill="#111">2000</text>
<line x1="494.90" y1="667.01" x2="498.40" y2="667.01" stroke="#383838" stroke-width="1.1"/>
<text transform="matrix(1.0616 0 0 1.0000 0 670.41)" x="440.82 446.47 452.08 457.75" font-size="9.95" fill="#111">1950</text>
<line x1="494.90" y1="691.54" x2="498.40" y2="691.54" stroke="#383838" stroke-width="1.1"/>
<text transform="matrix(1.0616 0 0 1.0000 0 694.94)" x="440.82 446.47 452.12 457.75" font-size="9.95" fill="#111">1900</text>
<line x1="494.90" y1="716.07" x2="498.40" y2="716.07" stroke="#383838" stroke-width="1.1"/>
<text transform="matrix(1.0616 0 0 1.0000 0 719.47)" x="440.82 446.48 452.08 457.75" font-size="9.95" fill="#111">1850</text>
<line x1="494.90" y1="740.60" x2="498.40" y2="740.60" stroke="#383838" stroke-width="1.1"/>
<text transform="matrix(1.0616 0 0 1.0000 0 744.00)" x="440.82 446.48 452.12 457.75" font-size="9.95" fill="#111">1800</text>
<line x1="541.60" y1="627.10" x2="541.60" y2="661.60" stroke="#1a1a1a" stroke-width="1.1"/>
<line x1="541.60" y1="708.40" x2="541.60" y2="747.40" stroke="#1a1a1a" stroke-width="1.1"/>
<line x1="538.37" y1="627.10" x2="544.83" y2="627.10" stroke="#1a1a1a" stroke-width="1.1" stroke-linecap="square"/>
<line x1="538.37" y1="747.40" x2="544.83" y2="747.40" stroke="#1a1a1a" stroke-width="1.1" stroke-linecap="square"/>
<rect x="535.13" y="661.60" width="12.94" height="46.80" fill="#1f77b4" stroke="#000" stroke-width="1.1"/>
<line x1="535.13" y1="686.30" x2="548.07" y2="686.30" stroke="#000" stroke-width="1.1"/>
<line x1="628.00" y1="670.20" x2="628.00" y2="688.60" stroke="#1a1a1a" stroke-width="1.1"/>
<line x1="628.00" y1="727.30" x2="628.00" y2="745.30" stroke="#1a1a1a" stroke-width="1.1"/>
<line x1="624.77" y1="670.20" x2="631.23" y2="670.20" stroke="#1a1a1a" stroke-width="1.1" stroke-linecap="square"/>
<line x1="624.77" y1="745.30" x2="631.23" y2="745.30" stroke="#1a1a1a" stroke-width="1.1" stroke-linecap="square"/>
<rect x="621.53" y="688.60" width="12.94" height="38.70" fill="#ff7f0e" stroke="#000" stroke-width="1.1"/>
<line x1="621.53" y1="704.00" x2="634.47" y2="704.00" stroke="#000" stroke-width="1.1"/>
<text transform="matrix(1.1427 0 0 1.0000 0 700.14)" x="486.64 496.90 502.33 512.47 521.89" font-size="17.64" font-weight="bold" stroke="#000" stroke-width="0.3" fill="#000">2.28%</text>
<g transform="translate(460.48 778.52) rotate(-90)"><text transform="matrix(1.0616 0 0 1.0000 0 0.00)" x="-0.30 12.35 16.21 25.22 30.05 40.55 50.06 58.94 68.71 73.06 81.51 86.66 97.24 106.25 116.23 120.59 124.63 134.39 144.03 150.83 166.30" font-size="17.64" fill="#000">Distance Travelled(m)</text></g>
<rect x="48.70" y="819.72" width="172.80" height="132.70" fill="none" stroke="#383838" stroke-width="1.1"/>
<line x1="91.90" y1="952.42" x2="91.90" y2="955.92" stroke="#383838" stroke-width="1.1"/>
<line x1="178.30" y1="952.42" x2="178.30" y2="955.92" stroke="#383838" stroke-width="1.1"/>
<line x1="45.20" y1="826.38" x2="48.70" y2="826.38" stroke="#383838" stroke-width="1.1"/>
<text transform="matrix(1.0393 0 0 1.0000 0 829.78)" x="26.33 32.03 34.92" font-size="9.95" fill="#111">8.5</text>
<line x1="45.20" y1="849.36" x2="48.70" y2="849.36" stroke="#383838" stroke-width="1.1"/>
<text transform="matrix(1.0538 0 0 1.0000 0 852.76)" x="25.93 31.57 34.44" font-size="9.95" fill="#111">8.0</text>
<line x1="45.20" y1="872.33" x2="48.70" y2="872.33" stroke="#383838" stroke-width="1.1"/>
<text transform="matrix(1.0361 0 0 1.0000 0 875.73)" x="26.40 32.14 35.03" font-size="9.95" fill="#111">7.5</text>
<line x1="45.20" y1="895.30" x2="48.70" y2="895.30" stroke="#383838" stroke-width="1.1"/>
<text transform="matrix(1.0506 0 0 1.0000 0 898.70)" x="26.00 31.67 34.56" font-size="9.95" fill="#111">7.0</text>
<line x1="45.20" y1="918.28" x2="48.70" y2="918.28" stroke="#383838" stroke-width="1.1"/>
<text transform="matrix(1.0433 0 0 1.0000 0 921.68)" x="26.24 31.90 34.77" font-size="9.95" fill="#111">6.5</text>
<line x1="45.20" y1="941.25" x2="48.70" y2="941.25" stroke="#383838" stroke-width="1.1"/>
<text transform="matrix(1.0579 0 0 1.0000 0 944.65)" x="25.84 31.45 34.30" font-size="9.95" fill="#111">6.0</text>
<line x1="91.90" y1="825.60" x2="91.90" y2="846.60" stroke="#1a1a1a" stroke-width="1.1"/>
<line x1="91.90" y1="872.50" x2="91.90" y2="909.50" stroke="#1a1a1a" stroke-width="1.1"/>
<line x1="88.67" y1="825.60" x2="95.13" y2="825.60" stroke="#1a1a1a" stroke-width="1.1" stroke-linecap="square"/>
<line x1="88.67" y1="909.50" x2="95.13" y2="909.50" stroke="#1a1a1a" stroke-width="1.1" stroke-linecap="square"/>
<rect x="85.43" y="846.60" width="12.94" height="25.90" fill="#1f77b4" stroke="#000" stroke-width="1.1"/>
<line x1="85.43" y1="862.20" x2="98.37" y2="862.20" stroke="#000" stroke-width="1.1"/>
<circle cx="91.90" cy="917.70" r="2.75" fill="none" stroke="#111" stroke-width="1.1"/>
<line x1="178.30" y1="852.40" x2="178.30" y2="884.40" stroke="#1a1a1a" stroke-width="1.1"/>
<line x1="178.30" y1="918.30" x2="178.30" y2="946.30" stroke="#1a1a1a" stroke-width="1.1"/>
<line x1="175.07" y1="852.40" x2="181.53" y2="852.40" stroke="#1a1a1a" stroke-width="1.1" stroke-linecap="square"/>
<line x1="175.07" y1="946.30" x2="181.53" y2="946.30" stroke="#1a1a1a" stroke-width="1.1" stroke-linecap="square"/>
<rect x="171.83" y="884.40" width="12.94" height="33.90" fill="#ff7f0e" stroke="#000" stroke-width="1.1"/>
<line x1="171.83" y1="899.30" x2="184.77" y2="899.30" stroke="#000" stroke-width="1.1"/>
<text transform="matrix(1.1497 0 0 1.0000 0 898.92)" x="87.43 97.59 107.78 113.04 123.15 132.58" font-size="17.64" font-weight="bold" stroke="#000" stroke-width="0.3" fill="#000">10.74%</text>
<g transform="translate(19.75 954.61) rotate(-90)"><text transform="matrix(1.0817 0 0 1.0000 0 0.00)" x="-0.99 9.08 13.36 17.38 27.20 37.51 43.02 47.24 57.07 61.37 75.99 85.28 91.87 106.87 110.97 121.20" font-size="17.64" fill="#000">Flight Time(min)</text></g>
<rect x="273.50" y="819.72" width="172.80" height="132.70" fill="none" stroke="#383838" stroke-width="1.1"/>
<line x1="316.70" y1="952.42" x2="316.70" y2="955.92" stroke="#383838" stroke-width="1.1"/>
<line x1="403.10" y1="952.42" x2="403.10" y2="955.92" stroke="#383838" stroke-width="1.1"/>
<line x1="270.00" y1="830.40" x2="273.50" y2="830.40" stroke="#383838" stroke-width="1.1"/>
<text transform="matrix(1.0622 0 0 1.0000 0 833.80)" x="234.41 240.16 245.78" font-size="9.95" fill="#111">240</text>
<line x1="270.00" y1="861.40" x2="273.50" y2="861.40" stroke="#383838" stroke-width="1.1"/>
<text transform="matrix(1.0622 0 0 1.0000 0 864.80)" x="234.41 240.04 245.78" font-size="9.95" fill="#111">220</text>
<line x1="270.00" y1="892.40" x2="273.50" y2="892.40" stroke="#383838" stroke-width="1.1"/>
<text transform="matrix(1.0622 0 0 1.0000 0 895.80)" x="234.41 240.15 245.78" font-size="9.95" fill="#111">200</text>
<line x1="270.00" y1="923.40" x2="273.50" y2="923.40" stroke="#383838" stroke-width="1.1"/>
<text transform="matrix(1.0580 0 0 1.0000 0 926.80)" x="235.43 241.12 246.77" font-size="9.95" fill="#111">180</text>
<line x1="316.70" y1="825.70" x2="316.70" y2="847.20" stroke="#1a1a1a" stroke-width="1.1"/>
<line x1="316.70" y1="878.40" x2="316.70" y2="912.40" stroke="#1a1a1a" stroke-width="1.1"/>
<line x1="313.47" y1="825.70" x2="319.93" y2="825.70" stroke="#1a1a1a" stroke-width="1.1" stroke-linecap="square"/>
<line x1="313.47" y1="912.40" x2="319.93" y2="912.40" stroke="#1a1a1a" stroke-width="1.1" stroke-linecap="square"/>
<rect x="310.23" y="847.20" width="12.94" height="31.20" fill="#1f77b4" stroke="#000" stroke-width="1.1"/>
<line x1="310.23" y1="862.30" x2="323.17" y2="862.30" stroke="#000" stroke-width="1.1"/>
<circle cx="316.70" cy="926.00" r="2.75" fill="none" stroke="#111" stroke-width="1.1"/>
<line x1="403.10" y1="854.70" x2="403.10" y2="888.70" stroke="#1a1a1a" stroke-width="1.1"/>
<line x1="403.10" y1="919.90" x2="403.10" y2="946.00" stroke="#1a1a1a" stroke-width="1.1"/>
<line x1="399.87" y1="854.70" x2="406.33" y2="854.70" stroke="#1a1a1a" stroke-width="1.1" stroke-linecap="square"/>
<line x1="399.87" y1="946.00" x2="406.33" y2="946.00" stroke="#1a1a1a" stroke-width="1.1" stroke-linecap="square"/>
<rect x="396.63" y="888.70" width="12.94" height="31.20" fill="#ff7f0e" stroke="#000" stroke-width="1.1"/>
<line x1="396.63" y1="904.10" x2="409.57" y2="904.10" stroke="#000" stroke-width="1.1"/>
<text transform="matrix(1.1709 0 0 1.0000 0 898.92)" x="277.74 287.64 297.77 302.98 312.89 322.02" font-size="17.64" font-weight="bold" stroke="#000" stroke-width="0.3" fill="#000">11.55%</text>
<text transform="matrix(1.1227 0 0 1.0000 0 814.12)" x="279.88 291.22 302.14 313.39 322.76 329.14 340.48 350.72" font-size="17.64" font-weight="bold" stroke="#000" stroke-width="0.3" fill="#000">UAVs #19</text>
<g transform="translate(241.56 976.06) rotate(-90)"><text transform="matrix(1.0228 0 0 1.0000 0 0.00)" x="-0.76 10.62 20.75 31.38 37.29 47.82 57.20 61.51 73.70 83.92 93.84 102.66 113.42 128.75 138.87 148.82 155.80 162.10 170.27" font-size="17.64" fill="#000">Energy Consumed(kJ)</text></g>
<rect x="498.40" y="819.72" width="172.80" height="132.70" fill="none" stroke="#383838" stroke-width="1.1"/>
<line x1="541.60" y1="952.42" x2="541.60" y2="955.92" stroke="#383838" stroke-width="1.1"/>
<line x1="628.00" y1="952.42" x2="628.00" y2="955.92" stroke="#383838" stroke-width="1.1"/>
<line x1="494.90" y1="827.80" x2="498.40" y2="827.80" stroke="#383838" stroke-width="1.1"/>
<text transform="matrix(1.0616 0 0 1.0000 0 831.20)" x="440.82 446.47 452.12 457.75" font-size="9.95" fill="#111">1700</text>
<line x1="494.90" y1="858.32" x2="498.40" y2="858.32" stroke="#383838" stroke-width="1.1"/>
<text transform="matrix(1.0616 0 0 1.0000 0 861.72)" x="440.82 446.51 452.12 457.75" font-size="9.95" fill="#111">1600</text>
<line x1="494.90" y1="888.84" x2="498.40" y2="888.84" stroke="#383838" stroke-width="1.1"/>
<text transform="matrix(1.0616 0 0 1.0000 0 892.24)" x="440.82 446.44 452.12 457.75" font-size="9.95" fill="#111">1500</text>
<line x1="494.90" y1="919.36" x2="498.40" y2="919.36" stroke="#383838" stroke-width="1.1"/>
<text transform="matrix(1.0616 0 0 1.0000 0 922.76)" x="440.82 446.49 452.12 457.75" font-size="9.95" fill="#111">1400</text>
<line x1="494.90" y1="949.88" x2="498.40" y2="949.88" stroke="#383838" stroke-width="1.1"/>
<text transform="matrix(1.0616 0 0 1.0000 0 953.28)" x="440.82 446.49 452.12 457.75" font-size="9.95" fill="#111">1300</text>
<line x1="541.60" y1="825.70" x2="541.60" y2="846.50" stroke="#1a1a1a" stroke-width="1.1"/>
<line x1="541.60" y1="870.00" x2="541.60" y2="891.50" stroke="#1a1a1a" stroke-width="1.1"/>
<line x1="538.37" y1="825.70" x2="544.83" y2="825.70" stroke="#1a1a1a" stroke-width="1.1" stroke-linecap="square"/>
<line x1="538.37" y1="891.50" x2="544.83" y2="891.50" stroke="#1a1a1a" stroke-width="1.1" stroke-linecap="square"/>
<rect x="535.13" y="846.50" width="12.94" height="23.50" fill="#1f77b4" stroke="#000" stroke-width="1.1"/>
<line x1="535.13" y1="859.50" x2="548.07" y2="859.50" stroke="#000" stroke-width="1.1"/>
<line x1="628.00" y1="835.00" x2="628.00" y2="865.30" stroke="#1a1a1a" stroke-width="1.1"/>
<line x1="628.00" y1="899.40" x2="628.00" y2="946.00" stroke="#1a1a1a" stroke-width="1.1"/>
<line x1="624.77" y1="835.00" x2="631.23" y2="835.00" stroke="#1a1a1a" stroke-width="1.1" stroke-linecap="square"/>
<line x1="624.77" y1="946.00" x2="631.23" y2="946.00" stroke="#1a1a1a" stroke-width="1.1" stroke-linecap="square"/>
<rect x="621.53" y="865.30" width="12.94" height="34.10" fill="#ff7f0e" stroke="#000" stroke-width="1.1"/>
<line x1="621.53" y1="880.30" x2="634.47" y2="880.30" stroke="#000" stroke-width="1.1"/>
<text transform="matrix(1.1424 0 0 1.0000 0 898.92)" x="486.77 497.06 502.49 512.67 522.05" font-size="17.64" font-weight="bold" stroke="#000" stroke-width="0.3" fill="#000">5.26%</text>
<g transform="translate(460.48 977.30) rotate(-90)"><text transform="matrix(1.0616 0 0 1.0000 0 0.00)" x="-0.30 12.35 16.21 25.22 30.05 40.55 50.06 58.94 68.71 73.06 81.51 86.66 97.24 106.25 116.23 120.59 124.63 134.39 144.03 150.83 166.30" font-size="17.64" fill="#000">Distance Travelled(m)</text></g>
<rect x="546.7" y="984.6" width="136.5" height="54.6" rx="2.5" fill="#fff" fill-opacity="0.8" stroke="#ccc" stroke-width="1"/>
<rect x="552.3" y="992.2" width="34.7" height="12.6" fill="#1f77b4"/>
<rect x="552.3" y="1016.6" width="34.7" height="12.5" fill="#ff7f0e"/>
<text transform="matrix(1.0517 0 0 1.0000 0 1004.20)" x="569.41 580.84 585.74 596.33 606.28 615.57 626.59 632.29" font-size="17.64" fill="#000">Standard</text>
<text transform="matrix(1.0092 0 0 1.0000 0 1029.00)" x="592.99 604.03 609.83 620.21 630.42 640.35 649.17 659.43" font-size="17.64" fill="#000">Proposed</text>
</svg>
</body></html>
